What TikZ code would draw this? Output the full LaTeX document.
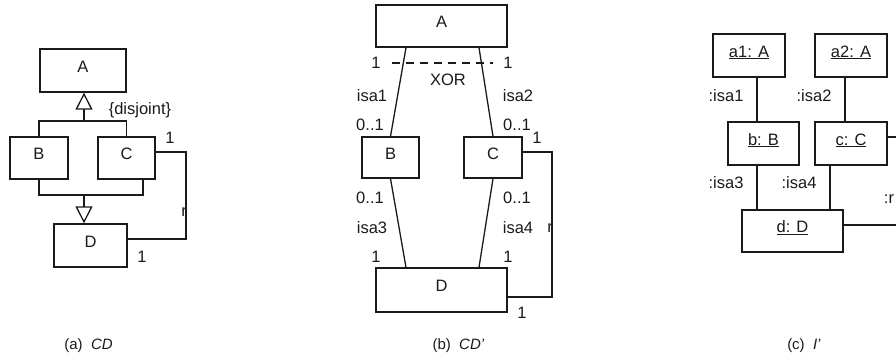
\documentclass[tikz,border=0pt]{standalone}
\usepackage{fontspec}
\setmainfont{Liberation Sans}
\usetikzlibrary{arrows.meta,calc,positioning}
\definecolor{Ink}{HTML}{1A1A1A}
\newcommand\labfont{\fontsize{16.5}{19}\selectfont}
\newcommand\capfont{\fontsize{15}{18}\selectfont}
\tikzset{
  cls/.style={
    draw=Ink, line width=1.3pt, fill=white, inner sep=0pt,
    text height=12pt, text depth=9pt, font=\labfont, text=Ink
  },
  assoc/.style={draw=Ink, line width=1.3pt},
  gen/.style={-{Triangle[open,length=17pt,width=17pt]}, draw=Ink, line width=1.3pt},
  xorline/.style={draw=Ink, line width=1.3pt, dash pattern=on 8pt off 6pt},
  lbl/.style={font=\labfont, text=Ink, inner sep=0pt},
  subcap/.style={font=\capfont, text=Ink, inner sep=0pt}
}

\begin{document}
\begin{tikzpicture}[x=1pt,y=-1pt]
  \useasboundingbox (0,0) rectangle (896,360);
  \clip (0,0) rectangle (896,360);

  % (a) CD
  \node[cls,minimum width=86pt,minimum height=43pt] (aA) at (83,70.5) {A};
  \node[cls,minimum width=58pt,minimum height=42pt] (aB) at (39,158) {B};
  \node[cls,minimum width=57pt,minimum height=42pt] (aC) at (126.5,158) {C};
  \node[cls,minimum width=73pt,minimum height=43pt] (aD) at (90.5,245.5) {D};
  \coordinate (jt) at (84,121);
  \coordinate (jb) at (84,195);
  \coordinate (cb) at (143,0);
  \draw[assoc] (aB.north) |- (jt) -| (aC.north);
  \draw[gen] (jt) -- (jt |- aA.south);
  \draw[assoc] (aB.south) |- (jb) -| (aC.south -| cb);
  \draw[gen] (jb) -- (jb |- aD.north);
  \coordinate (ra1) at (186,152);
  \coordinate (ra2) at (186,239);
  \draw[assoc] (aC.east |- ra1) -- (ra1) -- (ra2) -- (aD.east |- ra2);
  \node[lbl] at (140,110) {\{disjoint\}};
  \node[lbl] at (170,138) {1};
  \node[lbl] at (142,257) {1};
  \node[lbl] at (184,212) {r};
  \node[subcap] at (88.5,346) {(a)\ \ \textit{CD}};

  % (b) CD'
  \node[cls,minimum width=131pt,minimum height=42pt] (bA) at (441.5,26) {A};
  \node[cls,minimum width=57pt,minimum height=41pt] (bB) at (390.5,157.5) {B};
  \node[cls,minimum width=58pt,minimum height=41pt] (bC) at (493,157.5) {C};
  \node[cls,minimum width=131pt,minimum height=44pt] (bD) at (441.5,290) {D};
  \draw[assoc] ([xshift=-35.5pt]bA.south) -- (bB.north);
  \draw[assoc] ([xshift=37.5pt]bA.south) -- (bC.north);
  \draw[assoc] (bB.south) -- ([xshift=-35.5pt]bD.north);
  \draw[assoc] (bC.south) -- ([xshift=37.5pt]bD.north);
  \coordinate (x1) at (392,63);
  \coordinate (x2) at (493,63);
  \draw[xorline] (x1) -- (x2);
  \coordinate (rb1) at (552,152);
  \coordinate (rb2) at (552,297);
  \draw[assoc] (bC.east |- rb1) -- (rb1) -- (rb2) -- (bD.east |- rb2);
  \node[lbl] at (376,63) {1};
  \node[lbl] at (508,63) {1};
  \node[lbl] at (448,80) {XOR};
  \node[lbl] at (372,96) {isa1};
  \node[lbl] at (518,96) {isa2};
  \node[lbl] at (370,125) {0..1};
  \node[lbl] at (517,125) {0..1};
  \node[lbl] at (537,138) {1};
  \node[lbl] at (370,198) {0..1};
  \node[lbl] at (517,198) {0..1};
  \node[lbl] at (372,228) {isa3};
  \node[lbl] at (518,228) {isa4};
  \node[lbl] at (550,228) {r};
  \node[lbl] at (376,257) {1};
  \node[lbl] at (508,257) {1};
  \node[lbl] at (522,313) {1};
  \node[subcap] at (458.5,346) {(b)\ \ \textit{CD'}};

  % (c) I'
  \node[cls,minimum width=72pt,minimum height=43pt] (a1) at (749,55.5) {\underline{a1: A}};
  \node[cls,minimum width=72pt,minimum height=43pt] (a2) at (851,55.5) {\underline{a2: A}};
  \node[cls,minimum width=71pt,minimum height=43pt] (b) at (763.5,143.5) {\underline{b: B}};
  \node[cls,minimum width=72pt,minimum height=43pt] (c) at (851,143.5) {\underline{c: C}};
  \node[cls,minimum width=101pt,minimum height=42pt] (d) at (792.5,231) {\underline{d: D}};
  \coordinate (l1) at (757,0);
  \coordinate (l2) at (845,0);
  \coordinate (l3) at (830,0);
  \draw[assoc] (a1.south -| l1) -- (b.north -| l1);
  \draw[assoc] (a2.south -| l2) -- (c.north -| l2);
  \draw[assoc] (b.south -| l1) -- (d.north -| l1);
  \draw[assoc] (c.south -| l3) -- (d.north -| l3);
  \coordinate (rc1) at (910,137);
  \coordinate (rc2) at (910,225);
  \draw[assoc] (c.east |- rc1) -- (rc1) -- (rc2) -- (d.east |- rc2);
  \node[lbl] at (726,96) {:isa1};
  \node[lbl] at (814,96) {:isa2};
  \node[lbl] at (726,183) {:isa3};
  \node[lbl] at (799,183) {:isa4};
  \node[lbl] at (889,199) {:r};
  \node[subcap] at (804,346) {(c)\ \ \textit{I'}};
\end{tikzpicture}
\end{document}
